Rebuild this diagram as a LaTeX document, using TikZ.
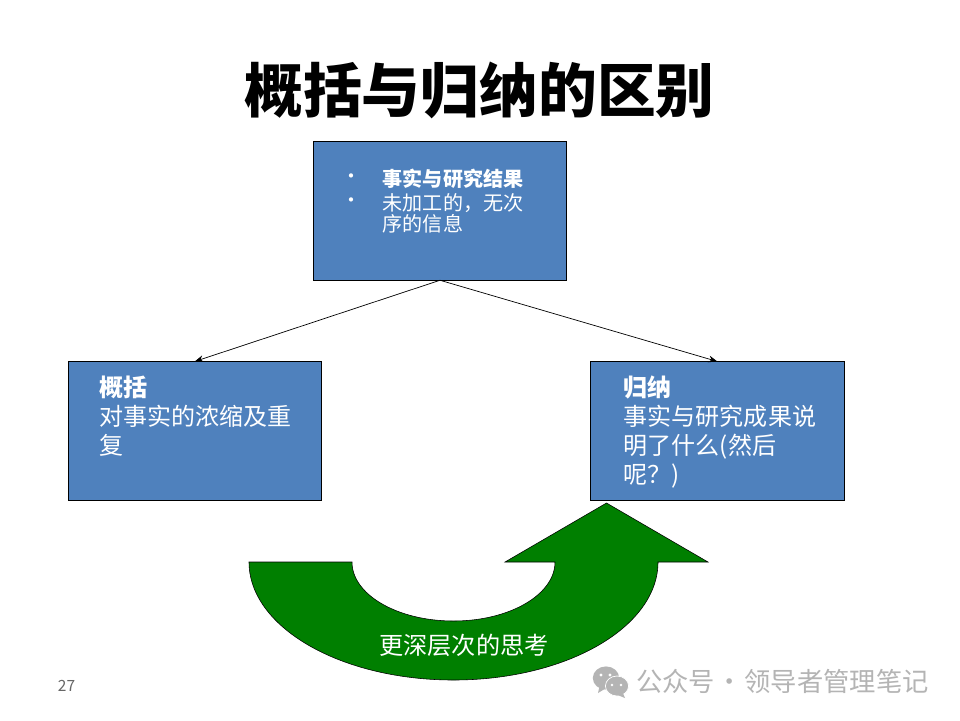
\documentclass[tikz,border=0pt]{standalone}
\usepackage{fontspec}
\setmainfont{Noto Sans CJK SC}
\usetikzlibrary{arrows.meta}
\definecolor{panelblue}{HTML}{4F81BD}
\definecolor{turngreen}{HTML}{007F00}
\definecolor{markgray}{HTML}{B4B4B4}
\tikzset{
  panel/.style={draw=black,fill=panelblue,line width=0.5pt,minimum width=63.4mm,minimum height=34.6mm,inner sep=0pt},
  paneltext/.style={text=white,anchor=north west,align=left,inner sep=0pt,font=\fontsize{17.1}{20.6}\selectfont},
  factstext/.style={text=white,anchor=north west,align=left,inner sep=0pt,font=\fontsize{14.3}{13.3}\selectfont},
  link/.style={-{Stealth[length=2.2mm,width=1.7mm]},line width=0.5pt}
}
\begin{document}
\begin{tikzpicture}[x=0.25mm,y=-0.25mm]
    \useasboundingbox[fill=white] (0,0) rectangle (960,720);

    \node[font=\fontsize{41.8}{44}\selectfont\bfseries] (title) at (479.5,90.5) {概括与归纳的区别};

    \node[panel] (facts) at (440,210.7) {};
    \node[panel] (summary) at (194.8,431) {};
    \node[panel] (induction) at (717.3,431) {};

    \node[text=white,font=\fontsize{14.2}{16}\selectfont] (dotA) at (351,179) {•};
    \node[text=white,font=\fontsize{14.2}{16}\selectfont] (dotB) at (351,203) {•};
    \node[factstext,font=\fontsize{14.3}{16}\selectfont\bfseries] (factsA) at (382.5,168.5) {事实与研究结果};
    \node[factstext] (factsB) at (382.5,193.5) {未加工的，无次\\序的信息};

    \node[paneltext] (summaryText) at (99,375.5) {\textbf{概括}\\对事实的浓缩及重\\复};
    \node[paneltext] (inductionText) at (623.5,375.5) {\textbf{归纳}\\事实与研究成果说\\明了什么(然后\\呢？)};

    \draw[link] (facts.south) -- (summary.north);
    \draw[link] (facts.south) -- (induction.north);

    % curved arrow
    \draw[fill=turngreen,line width=0.4pt] (249,562) arc[start angle=180,end angle=360,x radius=51.125mm,y radius=29.5mm]
      -- (708,562) -- (606.5,503) -- (505,562) -- (555,562)
      arc[start angle=0,end angle=-180,x radius=25.375mm,y radius=14.75mm] -- cycle;
    \node[text=white,font=\fontsize{17.2}{20}\selectfont] (turnText) at (464,645) {更深层次的思考};

    \node[text=black!60,font=\fontsize{11}{13}\selectfont] (pageNo) at (66.5,686) {27};

    % watermark
    \fill[markgray] (606,678) ellipse[x radius=3.3mm,y radius=2.9mm];
    \fill[markgray] (600,684) -- (598,693) -- (608,687) -- cycle;
    \draw[white,fill=markgray,line width=0.5pt] (617,686) ellipse[x radius=2.9mm,y radius=2.5mm];
    \fill[markgray] (622,691) -- (625,698) -- (615,694) -- cycle;
    \foreach \ex/\ey/\er in {601/675/0.4mm,610/675/0.4mm,612/685/0.35mm,621/685/0.35mm}
      \fill[white] (\ex,\ey) circle[radius=\er];
    \node[text=markgray,anchor=west,inner sep=0pt,font=\fontsize{18.7}{20}\selectfont] (markText) at (636,681) {公众号\hspace{0.06em}·\hspace{0.06em}领导者管理笔记};
\end{tikzpicture}
\end{document}
